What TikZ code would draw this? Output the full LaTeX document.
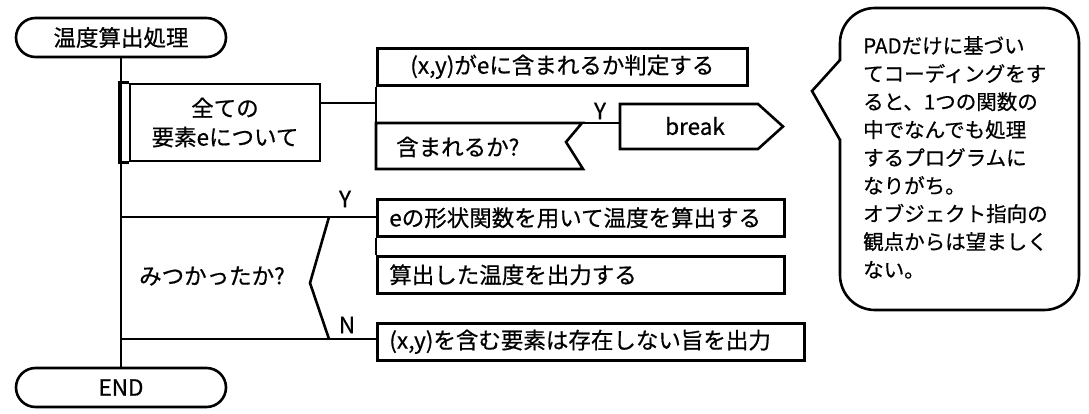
\documentclass[tikz,border=0pt]{standalone}
\usepackage{fontspec}
\setmainfont[FakeBold=0.6]{Noto Sans CJK JP}
\begin{document}
\begin{tikzpicture}[x=1pt,y=-1pt,
  line/.style={line width=2.6pt},
  txt/.style={font=\fontsize{22.5}{29}\selectfont, inner sep=0pt},
  terminal/.style={draw, line, txt, rounded corners=19.5pt, minimum width=210pt, minimum height=39pt},
  procbox/.style={draw, line, txt, inner xsep=12pt, inner ysep=0pt, minimum height=37pt, anchor=north west},
  label/.style={txt}
]
\useasboundingbox (0,0) rectangle (1089,414);

% start and end terminals
\node[terminal] (start) at (121,37.5) {温度算出処理};
\node[terminal] (end) at (121,387.5) {END};
\draw[line] (start.south) -- (end.north);

% loop over all elements
\node[draw, line, txt, align=center, minimum width=190pt, minimum height=77pt] (loop) at (225,122.5) {全ての\\要素eについて};
\draw[line] (loop.north west) -- ++(-9,0) |- (loop.south west);

% loop body
\node[procbox, text width=346pt, align=center] (judge) at (376,47) {(x,y)がeに含まれるか判定する};
\coordinate (jin) at (376,103);
\draw[line] (loop.east |- jin) -- (jin);

\coordinate (ctl) at (376,123);
\coordinate (ctr) at (582,123);
\coordinate (cnotch) at (566,142);
\coordinate (cbr) at (583,169);
\coordinate (cbl) at (376,169);
\draw[line] (judge.south west) -- (ctl);
\draw[line] (ctl) -- (ctr) -- (cnotch) -- (cbr) -- (cbl) -- cycle;
\node[txt, anchor=west] (cond) at (396,147) {含まれるか?};

% break on success
\coordinate (b1) at (620,104);
\coordinate (b2) at (758,104);
\coordinate (b3) at (783,126.5);
\coordinate (b4) at (758,149);
\coordinate (b5) at (620,149);
\draw[line] (b1) -- (b2) -- (b3) -- (b4) -- (b5) -- cycle;
\node[txt] (brk) at (695,126) {break};
\coordinate (bin) at (620,123);
\draw[line] (ctr) -- (bin);
\node[label] (ylab1) at (600,111) {Y};

% found?
\node[procbox, text width=383pt, align=left] (calc) at (376,198) {eの形状関数を用いて温度を算出する};
\node[procbox, text width=383pt, align=left] (out) at (376,255) {算出した温度を出力する};
\node[procbox, text width=403pt, align=left] (none) at (376,322) {(x,y)を含む要素は存在しない旨を出力};
\draw[line] (calc.south west) -- (out.north west);

\coordinate (yl) at (121,217);
\coordinate (nl) at (121,339);
\coordinate (yr) at (376,217);
\coordinate (nr) at (376,339);
\draw[line] (yl) -- (yr);
\draw[line] (nl) -- (nr);
\coordinate (dtop) at (329,217);
\coordinate (dtip) at (310,283);
\coordinate (dbot) at (329,339);
\draw[line] (dtop) -- (dtip) -- (dbot);
\node[txt] (found) at (212,276) {みつかったか?};
\node[label] (ylab2) at (345,199) {Y};
\node[label] (nlab) at (347,325) {N};

% speech bubble
\node[draw, line, rounded corners=35pt, minimum width=239pt, minimum height=302pt] (note) at (959.5,159) {};
\fill[white] (842,61) -- (836,61) -- (812,91) -- (836,139) -- (842,139) -- cycle;
\coordinate (p1) at (840,60);
\coordinate (ptip) at (812,91);
\coordinate (p2) at (840,140);
\draw[line, line cap=round] (p1) -- (ptip) -- (p2);
\node[anchor=north west, inner sep=0pt, align=left, font=\fontsize{20.5}{28}\selectfont] (notetext) at (863,36) {PADだけに基づい\\てコーディングをす\\ると、1つの関数の\\中でなんでも処理\\するプログラムに\\なりがち。\\オブジェクト指向の\\観点からは望ましく\\ない。};
\end{tikzpicture}
\end{document}
